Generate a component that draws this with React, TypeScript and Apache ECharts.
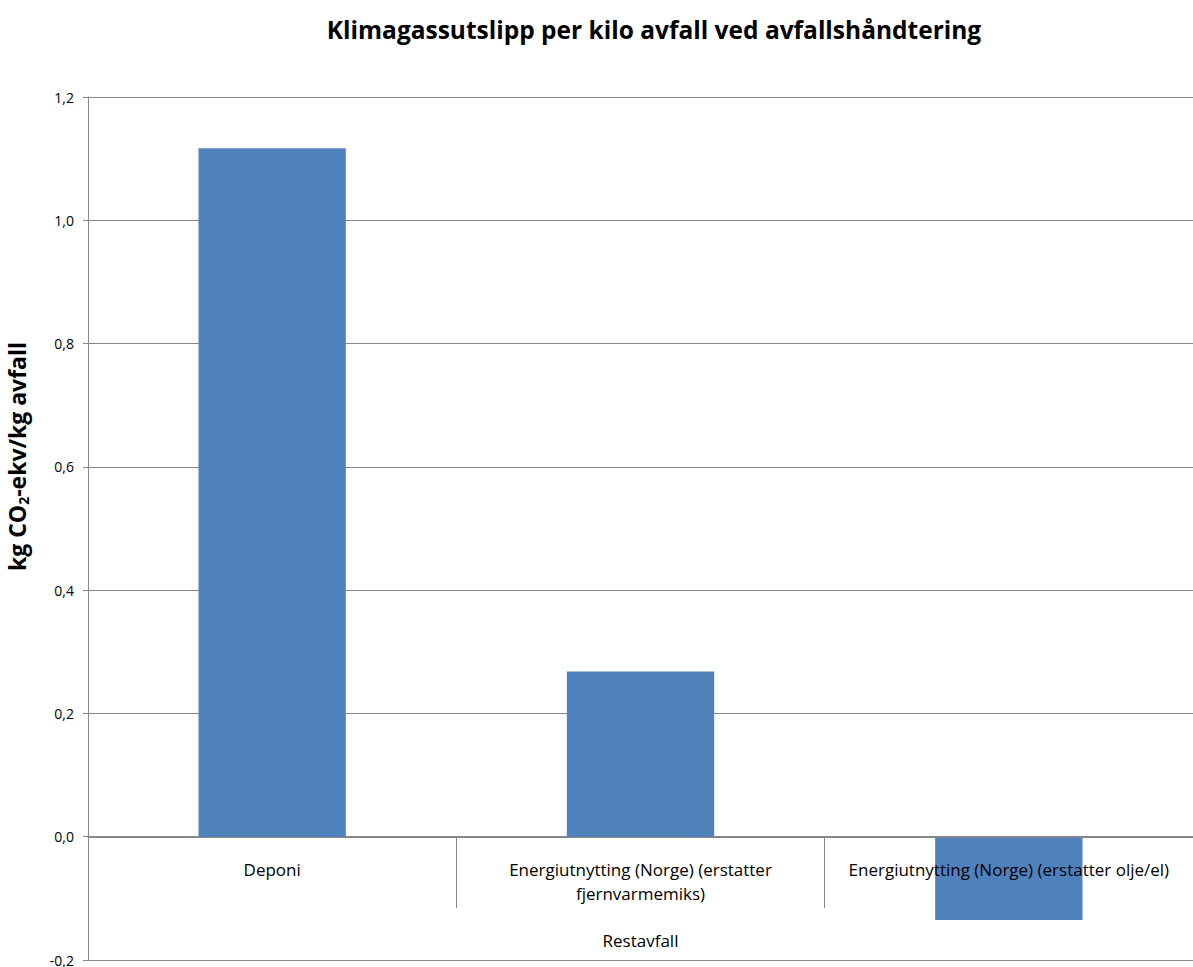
import React, { useEffect, useRef } from "react";
import * as echarts from "echarts";

const categories = [
  "Deponi",
  "Energiutnytting (Norge) (erstatter\nfjernvarmemiks)",
  "Energiutnytting (Norge) (erstatter olje/el)",
];
const values = [1.117, 0.268, -0.135];
const groupLabel = "Restavfall";
const titleText = "Klimagassutslipp per kilo avfall ved avfallshåndtering";

export default function App() {
  const ref = useRef<HTMLDivElement>(null);
  useEffect(() => {
    const chart = echarts.init(ref.current!, null, { renderer: "svg" });
    const font = "'Open Sans', sans-serif";
    chart.setOption({
      animation: false,
      textStyle: { fontFamily: font },
      title: {
        text: titleText,
        left: 649,
        textAlign: "center",
        top: 12,
        textStyle: { fontSize: 24.5, fontWeight: "bold", color: "#000", fontFamily: font },
      },
      grid: { left: 88, right: 0, top: 97, bottom: 7, containLabel: false, outerBoundsMode: "none" },
      xAxis: {
        type: "category",
        data: categories,
        z: 5,
        offset: -123,
        name: groupLabel,
        nameLocation: "middle",
        nameGap: 95,
        nameTextStyle: { fontSize: 17, color: "#000", fontFamily: font },
        axisLine: { show: true, onZero: false, lineStyle: { color: "#868686", width: 1 } },
        axisTick: { show: true, length: 71, lineStyle: { color: "#868686" } },
        axisLabel: {
          interval: 0,
          margin: 20,
          fontSize: 17,
          lineHeight: 24,
          color: "#000",
          fontFamily: font,
        },
      },
      yAxis: {
        type: "value",
        min: -0.2,
        max: 1.2,
        interval: 0.2,
        name: "kg CO{sub|2}-ekv/kg avfall",
        nameLocation: "middle",
        nameGap: 58,
        nameRotate: 90,
        nameTextStyle: {
          fontSize: 23,
          fontWeight: "bold",
          color: "#000",
          fontFamily: font,
          padding: [0, 0, 0, 144],
          rich: {
            sub: { fontSize: 14, fontWeight: "bold", verticalAlign: "bottom", padding: [12, 0, 0, 0], fontFamily: font, color: "#000" },
          },
        },
        axisLine: { show: true, lineStyle: { color: "#868686" } },
        axisTick: { show: true, length: 5, lineStyle: { color: "#868686" } },
        splitLine: { show: true, lineStyle: { color: "#868686", width: 1 } },
        axisLabel: {
          margin: 14,
          fontSize: 14,
          color: "#000",
          fontFamily: font,
          formatter: (v: number) => v.toFixed(1).replace(".", ","),
        },
      },
      series: [
        {
          type: "bar",
          data: values,
          barWidth: "40%",
          itemStyle: { color: "#4F81BD" },
        },
      ],
    });
    return () => chart.dispose();
  }, []);
  return (
    <div
      ref={ref}
      style={{ position: "fixed", left: 0, top: 0, width: 1193, height: 967, background: "#fff" }}
    />
  );
}
